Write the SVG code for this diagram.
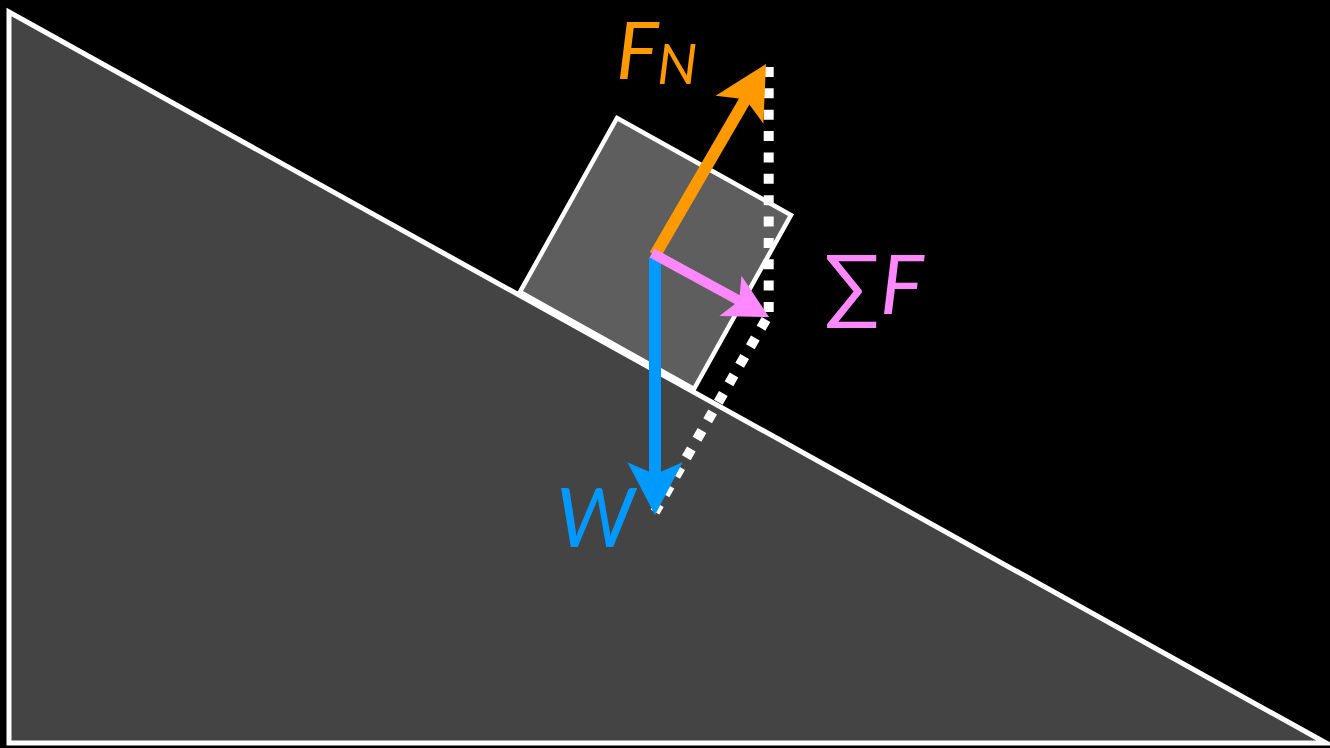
<svg xmlns="http://www.w3.org/2000/svg" width="1330" height="748" viewBox="0 0 1330 748">
<style>
.lbl{font-family:Lato,"Open Sans","DejaVu Sans",sans-serif;font-style:italic}
.dots{stroke:#fff;stroke-width:10;fill:none;stroke-dasharray:10 11.36}
.shaft{fill:none}
</style>
<defs>
<marker id="hO" markerUnits="strokeWidth" orient="auto" refX="0" refY="0" markerWidth="6" markerHeight="6" viewBox="-1.5 -3 6 6" overflow="visible"><path d="M3.4,0 L-1,-2.3 L0,0 L-1,2.3 Z" fill="#ff9900"/></marker>
<marker id="hB" markerUnits="strokeWidth" orient="auto" refX="0" refY="0" markerWidth="6" markerHeight="6" viewBox="-1.5 -3 6 6" overflow="visible"><path d="M3.4,0 L-1,-2.3 L0,0 L-1,2.3 Z" fill="#0099ff"/></marker>
<marker id="hP" markerUnits="strokeWidth" orient="auto" refX="0" refY="0" markerWidth="6" markerHeight="6" viewBox="-1.5 -3 6 6" overflow="visible"><path d="M3.4,0 L-1,-2.3 L0,0 L-1,2.3 Z" fill="#ff88ff"/></marker>
</defs>
<rect width="1330" height="748" fill="#000"/>
<g id="ramp"><polygon points="9,12 1326,743 9,743" fill="#444444" stroke="#fff" stroke-width="5" stroke-linejoin="miter"/></g>
<g id="block"><polygon points="617,118 791,215 694,389 520,292" fill="#5e5e5e" stroke="#fff" stroke-width="4.5"/></g>
<g id="connectors">
<line class="dots" x1="768.7" y1="67" x2="768.7" y2="312"/>
<line class="dots" x1="768" y1="316" x2="655" y2="512" stroke-dashoffset="-4"/>
<line class="shaft" x1="655" y1="255" x2="745.5" y2="99.3" stroke="#ff9900" stroke-width="12" marker-end="url(#hO)"/>
<line class="shaft" x1="655" y1="257" x2="655" y2="474.2" stroke="#0099ff" stroke-width="12" marker-end="url(#hB)"/>
<line class="shaft" x1="652" y1="253" x2="739.2" y2="300.7" stroke="#ff88ff" stroke-width="10" marker-end="url(#hP)"/>
</g>
<g id="label-FN"><text class="lbl" x="616" y="79" font-size="80" fill="#ff9900">F</text><text class="lbl" x="657" y="84" font-size="57" fill="#ff9900">N</text></g>
<g id="label-SF"><text class="lbl" x="824" y="314" font-size="82" fill="#ff88ff"><tspan font-style="normal">∑</tspan>F</text></g>
<g id="label-W"><text class="lbl" x="556" y="547" font-size="82" fill="#0099ff">W</text></g>
</svg>
